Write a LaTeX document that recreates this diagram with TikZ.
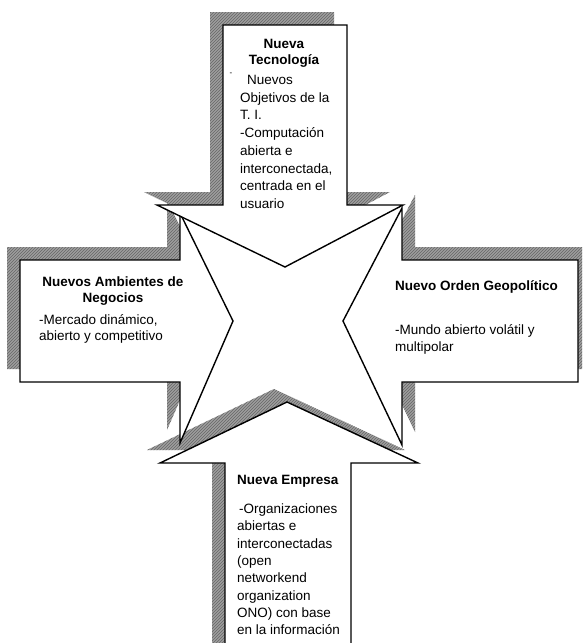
\documentclass[tikz,border=0pt]{standalone}
\usepackage{fontspec}
\setmainfont{Liberation Sans}
\usetikzlibrary{patterns}
\begin{document}
\begin{tikzpicture}[x=1pt,y=-1pt,
  arrowshape/.style={draw=black, line width=1.4pt, fill=white, line join=miter},
  shadowshape/.style={preaction={fill=black!38}, pattern=north east lines, pattern color=black!60},
  ttl/.style={font=\bfseries\fontsize{13.5}{16}\selectfont, inner sep=0pt},
  txt/.style={font=\fontsize{13.5}{16}\selectfont, inner sep=0pt, anchor=base west}]
\useasboundingbox (0,0) rectangle (582,643);
\clip (0,0) rectangle (582,643);
\def\Tshape{(223,25) -- (347,25) -- (347,205) -- (403,205) -- (285,267) -- (157,205) -- (223,205) -- cycle}
\def\Lshape{(20,260) -- (180,260) -- (180,213) -- (233,321) -- (180,443) -- (180,382) -- (20,382) -- cycle}
\def\Rshape{(578,260) -- (402,260) -- (402,208) -- (343,321) -- (402,445) -- (402,382) -- (578,382) -- cycle}
\def\Bshape{(225,700) -- (225,463) -- (160,463) -- (287,402) -- (418,463) -- (351,463) -- (351,700) -- cycle}
% shadows
\fill[shadowshape, shift={(-13,-13)}] \Tshape;
\fill[shadowshape, shift={(-13,-13)}] \Lshape;
\fill[shadowshape, shift={(13,-13)}] \Rshape;
\fill[shadowshape, shift={(-13,-13)}] \Bshape;
% arrows
\path[arrowshape] \Lshape;
\path[arrowshape] \Rshape;
\path[arrowshape] \Bshape;
\path[arrowshape] \Tshape;
% top texts
\node[ttl, anchor=base] (t1) at (284,48) {Nueva};
\node[ttl, anchor=base] (t2) at (284,64) {Tecnología};
\node[inner sep=0pt, font=\fontsize{8}{8}\selectfont] (t0) at (231,74) {-};
\node[txt] (t3) at (247,84.5) {Nuevos};
\node[txt] (t4) at (240,102.2) {Objetivos de la};
\node[txt] (t5) at (240,119.9) {T. I.};
\node[txt] (t6) at (240,137.6) {-Computación};
\node[txt] (t7) at (240,155.3) {abierta e};
\node[txt] (t8) at (240,173) {interconectada,};
\node[txt] (t9) at (240,190.7) {centrada en el};
\node[txt] (t10) at (240,208.4) {usuario};
% left texts
\node[ttl, anchor=base] (l1) at (113,286.5) {Nuevos Ambientes de};
\node[ttl, anchor=base] (l2) at (113,302) {Negocios};
\node[txt] (l3) at (39,324.5) {-Mercado dinámico,};
\node[txt] (l4) at (39,340) {abierto y competitivo};
% right texts
\node[ttl, anchor=base west] (r1) at (395,290) {Nuevo Orden Geopolítico};
\node[txt] (r2) at (395,334.5) {-Mundo abierto volátil y};
\node[txt] (r3) at (395,351.5) {multipolar};
% bottom texts
\node[ttl, anchor=base west] (b1) at (237,484) {Nueva Empresa};
\node[txt] (b2) at (239,513.5) {-Organizaciones};
\node[txt] (b3) at (237,530.5) {abiertas e};
\node[txt] (b4) at (237,548) {interconectadas};
\node[txt] (b5) at (237,565) {(open};
\node[txt] (b6) at (237,582.5) {networkend};
\node[txt] (b7) at (237,600) {organization};
\node[txt] (b8) at (237,617.5) {ONO) con base};
\node[txt] (b9) at (237,634) {en la información};
\end{tikzpicture}
\end{document}
